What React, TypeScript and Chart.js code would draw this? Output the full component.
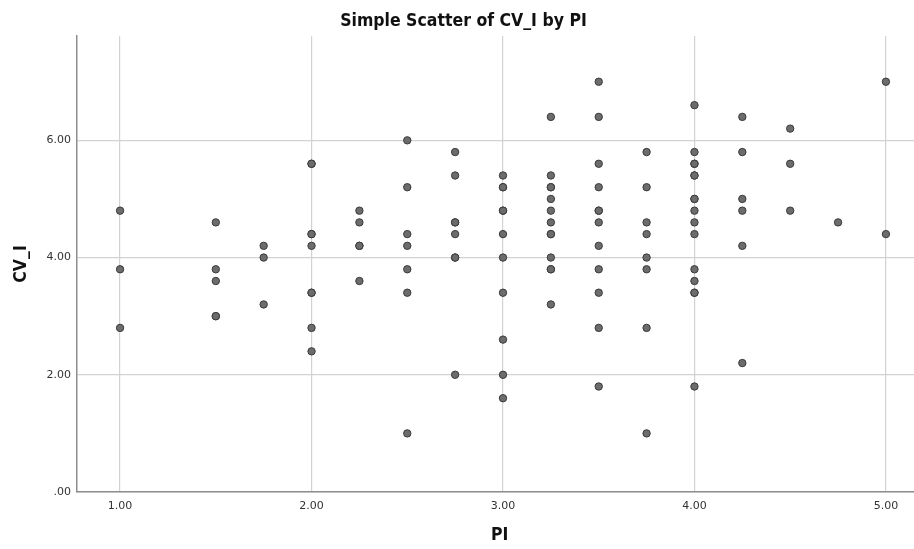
import React, { useEffect, useRef } from "react";
import { Chart, registerables } from "chart.js";

Chart.register(...registerables);

// ---- Data ----
const TITLE = "Simple Scatter of CV_I by PI";
const X_TITLE = "PI";
const Y_TITLE = "CV_I";

const PI_LEVELS = [1.0, 1.5, 1.75, 2.0, 2.25, 2.5, 2.75, 3.0, 3.25, 3.5, 3.75, 4.0, 4.25, 4.5, 4.75, 5.0];

const CV_AT_1_00 = [4.8, 3.8, 2.8];
const CV_AT_1_50 = [4.6, 3.8, 3.6, 3.0, 3.0];
const CV_AT_1_75 = [4.2, 4.0, 3.2];
const CV_AT_2_00 = [5.6, 5.6, 4.4, 4.4, 4.2, 3.4, 3.4, 2.8, 2.4];
const CV_AT_2_25 = [4.8, 4.6, 4.2, 4.2, 3.6];
const CV_AT_2_50 = [6.0, 5.2, 4.4, 4.2, 3.8, 3.4, 1.0];
const CV_AT_2_75 = [5.8, 5.4, 4.6, 4.6, 4.4, 4.0, 4.0, 2.0];
const CV_AT_3_00 = [5.4, 5.2, 5.2, 4.8, 4.8, 4.4, 4.0, 3.4, 2.6, 2.0, 1.6];
const CV_AT_3_25 = [6.4, 5.4, 5.2, 5.2, 5.0, 4.8, 4.6, 4.4, 4.4, 4.0, 3.8, 3.8, 3.2];
const CV_AT_3_50 = [7.0, 6.4, 5.6, 5.2, 4.8, 4.8, 4.6, 4.2, 3.8, 3.4, 2.8, 1.8];
const CV_AT_3_75 = [5.8, 5.2, 4.6, 4.4, 4.0, 3.8, 2.8, 1.0];
const CV_AT_4_00 = [6.6, 5.8, 5.6, 5.6, 5.4, 5.4, 5.0, 5.0, 4.8, 4.6, 4.4, 3.8, 3.6, 3.4, 3.4, 1.8];
const CV_AT_4_25 = [6.4, 5.8, 5.0, 4.8, 4.2, 2.2];
const CV_AT_4_50 = [6.2, 5.6, 4.8];
const CV_AT_4_75 = [4.6];
const CV_AT_5_00 = [7.0, 4.4];

const CV_BY_LEVEL = [
  CV_AT_1_00, CV_AT_1_50, CV_AT_1_75, CV_AT_2_00, CV_AT_2_25, CV_AT_2_50, CV_AT_2_75, CV_AT_3_00,
  CV_AT_3_25, CV_AT_3_50, CV_AT_3_75, CV_AT_4_00, CV_AT_4_25, CV_AT_4_50, CV_AT_4_75, CV_AT_5_00,
];

const X_TICKS = [1, 2, 3, 4, 5];
const X_TICK_LABELS = ["1.00", "2.00", "3.00", "4.00", "5.00"];
const Y_TICKS = [0, 2, 4, 6];
const Y_TICK_LABELS = [".00", "2.00", "4.00", "6.00"];
const X_MIN = 0.775;
const X_MAX = 5.19;
const Y_MIN = 0;
const Y_MAX = 7.78;

const CANVAS_W = 927;
const CANVAS_H = 549;

export default function App() {
  const ref = useRef<HTMLCanvasElement | null>(null);

  useEffect(() => {
    document.body.style.margin = "0";
    document.body.style.overflow = "hidden";
    document.documentElement.style.overflow = "hidden";
    const canvas = ref.current;
    if (!canvas) return;

    const points: { x: number; y: number }[] = [];
    PI_LEVELS.forEach((pi, i) => {
      CV_BY_LEVEL[i].forEach((cv) => points.push({ x: pi, y: cv }));
    });

    const tickFont = { family: "'DejaVu Sans', sans-serif", size: 11 };
    const titleFontFamily = "'Liberation Sans Narrow', 'DejaVu Sans Condensed', 'Liberation Sans', sans-serif";

    const chart = new Chart(canvas, {
      type: "scatter",
      data: {
        datasets: [
          {
            data: points,
            backgroundColor: "#6c6c6c",
            borderColor: "#3a3a3a",
            borderWidth: 1,
            pointRadius: 3.7,
            pointHoverRadius: 3.7,
          },
        ],
      },
      options: {
        animation: false,
        responsive: false,
        maintainAspectRatio: false,
        devicePixelRatio: 1,
        layout: { padding: { left: 0, right: 0, top: 0, bottom: 0 } },
        plugins: {
          legend: { display: false },
          tooltip: { enabled: false },
          title: {
            display: true,
            text: TITLE,
            color: "#111",
            font: { family: titleFontFamily, size: 17.5, weight: "bold", lineHeight: 1.0 },
            padding: { top: 12.5, bottom: 6 },
          },
        },
        scales: {
          x: {
            type: "linear",
            min: X_MIN,
            max: X_MAX,
            afterBuildTicks: (scale: any) => {
              scale.ticks = X_TICKS.map((v) => ({ value: v }));
            },
            afterFit: (scale: any) => {
              scale.height = 57;
            },
            ticks: {
              color: "#333",
              font: tickFont,
              padding: 8,
              maxRotation: 0,
              autoSkip: false,
              callback: (v: any) => {
                const i = X_TICKS.indexOf(Number(v));
                return i >= 0 ? X_TICK_LABELS[i] : "";
              },
            },
            grid: { color: "#d2d2d2", lineWidth: 1.2, drawTicks: false },
            border: { display: true, color: "#8e8e8e", width: 1.5 },
            title: {
              display: true,
              text: X_TITLE,
              color: "#111",
              font: { family: titleFontFamily, size: 17.5, weight: "bold", lineHeight: 1.0 },
              padding: { top: 0, bottom: 4.5 },
            },
          },
          y: {
            type: "linear",
            min: Y_MIN,
            max: Y_MAX,
            afterBuildTicks: (scale: any) => {
              scale.ticks = Y_TICKS.map((v) => ({ value: v }));
            },
            afterFit: (scale: any) => {
              scale.width = 77;
            },
            ticks: {
              color: "#333",
              font: tickFont,
              padding: 6,
              autoSkip: false,
              callback: (v: any) => {
                const i = Y_TICKS.indexOf(Number(v));
                return i >= 0 ? Y_TICK_LABELS[i] : "";
              },
            },
            grid: { color: "#d2d2d2", lineWidth: 1.2, drawTicks: false },
            border: { display: true, color: "#8e8e8e", width: 1.5 },
            title: {
              display: true,
              text: Y_TITLE,
              color: "#111",
              font: { family: titleFontFamily, size: 17.5, weight: "bold", lineHeight: 1.0 },
              padding: { top: 13, bottom: 0 },
            },
          },
        },
      },
    });

    return () => chart.destroy();
  }, []);

  return (
    <div style={{ width: 914, height: CANVAS_H, overflow: "hidden", background: "#fff" }}>
      <canvas
        ref={ref}
        width={CANVAS_W}
        height={CANVAS_H}
        style={{ display: "block", width: CANVAS_W, height: CANVAS_H }}
      />
    </div>
  );
}
